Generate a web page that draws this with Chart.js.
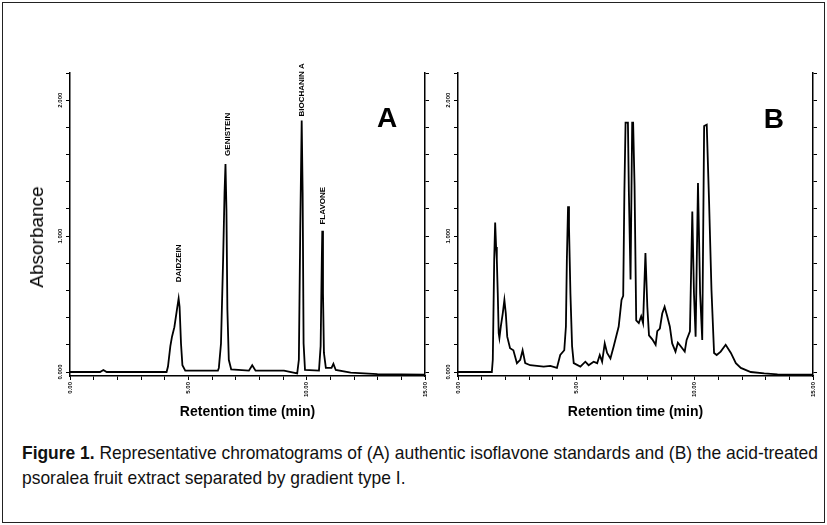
<!DOCTYPE html>
<html>
<head>
<meta charset="utf-8">
<title>Figure 1</title>
<script src="https://cdn.jsdelivr.net/npm/chart.js@4.4.1/dist/chart.umd.min.js"></script>
<style>
  html, body { margin: 0; padding: 0; background: #fff; }
  #page { position: relative; width: 827px; height: 525px; overflow: hidden; }
  #frame { position: absolute; left: 2px; top: 2px; width: 821px; height: 519px; border: 1px solid #222; }
  #chartA { position: absolute; left: 0; top: 0; }
  #chartB { position: absolute; left: 440px; top: 0; }
  #ylabel {
    position: absolute; left: 37px; top: 237px;
    transform: translate(-50%, -50%) rotate(-90deg);
    font: 19px "Liberation Sans", Arial, sans-serif; white-space: nowrap; color: #000;
  }
  #caption {
    position: absolute; left: 22px; top: 440px;
    font-family: "Liberation Sans", Arial, sans-serif;
    font-size: 19px; line-height: 25px; white-space: nowrap; color: #111;
    transform-origin: left top;
  }
</style>
</head>
<body>
<div id="page">
  <div id="frame"></div>
  <canvas id="chartA" width="440" height="421"></canvas>
  <canvas id="chartB" width="387" height="421"></canvas>
  <div id="ylabel">Absorbance</div>
  <div id="caption"><span id="capLine1"><b>Figure 1.</b> Representative chromatograms of (A) authentic isoflavone standards and (B) the acid-treated</span><br>psoralea fruit extract separated by gradient type I.</div>
</div>
<script>
// --- (A) isoflavone standards: retention time (min) / absorbance ---
const timeA = [0, 1.27, 1.41, 1.55, 4.08, 4.14, 4.24, 4.31, 4.41, 4.52, 4.59, 4.63, 4.69, 4.75, 4.87,
  6.25, 6.29, 6.38, 6.47, 6.53, 6.57, 6.61, 6.65, 6.71, 6.81, 7.56, 7.70, 7.84, 9.04,
  9.60, 9.67, 9.73, 9.79, 9.83, 9.87, 9.93, 10.52, 10.59, 10.64, 10.66, 10.69, 10.73, 10.81,
  11.05, 11.13, 11.23, 11.86, 12.99, 15.0];
const absA = [0.00, 0.00, 0.015, 0.00, 0.00, 0.04, 0.19, 0.26, 0.33, 0.46, 0.54, 0.48, 0.21, 0.05, 0.01,
  0.01, 0.03, 0.21, 0.83, 1.32, 1.53, 1.20, 0.46, 0.09, 0.02, 0.01, 0.05, 0.01, 0.01,
  -0.01, 0.09, 1.07, 1.85, 1.32, 0.21, 0.015, 0.01, 0.19, 0.83, 1.04, 0.58, 0.14, 0.03,
  0.03, 0.06, 0.015, -0.005, -0.015, -0.02];

// --- (B) acid-treated psoralea fruit extract ---
const timeB = [0, 1.43, 1.47, 1.53, 1.57, 1.61, 1.64, 1.68, 1.72, 1.75, 1.81, 1.89, 1.96, 2.02, 2.08,
  2.20, 2.34, 2.49, 2.63, 2.73, 2.84, 3.05, 3.62, 3.90, 4.18, 4.32, 4.49, 4.56, 4.60, 4.65, 4.69,
  4.75, 4.82, 4.89, 5.17, 5.38, 5.52, 5.73, 5.88, 5.99, 6.09, 6.20, 6.30, 6.44, 6.58, 6.79, 6.91,
  6.98, 7.03, 7.08, 7.18, 7.22, 7.29, 7.36, 7.40, 7.46, 7.53, 7.64, 7.74, 7.82, 7.92, 8.00, 8.07,
  8.21, 8.35, 8.42, 8.53, 8.63, 8.73, 8.84, 8.95, 9.05, 9.19, 9.29, 9.41, 9.58, 9.66, 9.80, 9.90,
  9.97, 10.04, 10.14, 10.23, 10.32, 10.40, 10.51, 10.61, 10.71, 10.82, 10.93, 11.10, 11.31, 11.53,
  11.74, 11.95, 12.37, 12.94, 13.50, 14.99];
const absB = [0.00, 0.00, 0.09, 0.83, 1.10, 0.92, 0.83, 0.58, 0.285, 0.25, 0.335, 0.43, 0.53, 0.43, 0.26,
  0.175, 0.16, 0.065, 0.09, 0.16, 0.065, 0.05, 0.04, 0.045, 0.03, 0.125, 0.16, 0.335, 0.83, 1.22, 1.07,
  0.58, 0.19, 0.065, 0.04, 0.076, 0.05, 0.076, 0.065, 0.125, 0.076, 0.21, 0.14, 0.10, 0.19, 0.335, 0.53,
  0.56, 1.32, 1.835, 1.835, 1.32, 0.68, 1.835, 1.835, 1.37, 0.38, 0.36, 0.41, 0.36, 0.876, 0.48, 0.27,
  0.24, 0.20, 0.30, 0.32, 0.43, 0.48, 0.41, 0.335, 0.21, 0.15, 0.216, 0.19, 0.15, 0.236, 0.30, 1.18,
  0.58, 0.26, 1.39, 0.58, 0.236, 1.81, 1.82, 1.245, 0.605, 0.14, 0.125, 0.15, 0.20, 0.14,
  0.065, 0.03, 0.00, -0.01, -0.017, -0.02];

// peak names in (A), with the time and absorbance where each label starts
const peakNamesA = ['DAIDZEIN', 'GENISTEIN', 'BIOCHANIN A', 'FLAVONE'];
const peakTimesA = [4.58, 6.65, 9.79, 10.68];
const peakLabelAbsA = [0.66, 1.59, 1.88, 1.085];

// axis ranges and tick steps
const timeMin = 0, timeMax = 15, timeStep = 1, timeLabelEvery = 5;
const absMin = -0.0294, absMax = 2.2, absStep = 0.2;

Chart.defaults.font.family = '"Liberation Sans", Arial, sans-serif';
Chart.defaults.color = '#000';

// rotated y tick labels, peak names and panel letter
const annotPlugin = {
    id: 'annot',
    afterDraw(chart, args, opts) {
        const ctx = chart.ctx;
        const xs = chart.scales.x, ys = chart.scales.y;
        ctx.save();
        ctx.fillStyle = '#000';

        // y tick labels (0.000, 1.000, 2.000) drawn sideways
        ctx.font = 'bold 6px "Liberation Sans", Arial, sans-serif';
        ctx.textAlign = 'center';
        ctx.textBaseline = 'middle';
        ys.ticks.forEach(t => {
            if (!t.label) return;
            ctx.save();
            ctx.translate(ys.right - 10, ys.getPixelForValue(t.value));
            ctx.rotate(-Math.PI / 2);
            ctx.fillText(t.label, 0, 0);
            ctx.restore();
        });

        // peak names
        ctx.font = 'bold 8px "Liberation Sans", Arial, sans-serif';
        ctx.textAlign = 'left';
        (opts.names || []).forEach((name, i) => {
            ctx.save();
            ctx.translate(xs.getPixelForValue(opts.times[i]), ys.getPixelForValue(opts.levels[i]));
            ctx.rotate(-Math.PI / 2);
            ctx.fillText(name, 0, 0);
            ctx.restore();
        });

        // panel letter
        ctx.font = 'bold 28px "Liberation Sans", Arial, sans-serif';
        ctx.textAlign = 'center';
        ctx.fillText(opts.letter, xs.getPixelForValue(opts.letterAt[0]), ys.getPixelForValue(opts.letterAt[1]));
        ctx.restore();
    }
};

function makeChart(canvasId, times, values, yWidth, y2Width, annot) {
    const points = times.map((t, i) => ({ x: t, y: values[i] }));
    const axisGrid = { drawOnChartArea: false, drawTicks: true, tickLength: 4, color: '#000', lineWidth: 1 };
    const axisBorder = { color: '#000', width: 1.5 };
    const yTicks = {
        stepSize: absStep,
        includeBounds: false,
        display: false,
        callback: v => Math.abs(v - Math.round(v)) < 1e-6 ? v.toFixed(3) : ''
    };

    return new Chart(document.getElementById(canvasId), {
        type: 'line',
        data: {
            datasets: [{
                data: points,
                borderColor: '#000',
                borderWidth: 1.8,
                pointRadius: 0,
                tension: 0,
                fill: false
            }]
        },
        options: {
            responsive: false,
            animation: false,
            devicePixelRatio: 1,
            layout: { padding: { top: 73, left: 0, right: 0, bottom: 0 } },
            plugins: { legend: { display: false }, tooltip: { enabled: false }, annot: annot },
            scales: {
                x: {
                    type: 'linear',
                    min: timeMin,
                    max: timeMax,
                    ticks: {
                        stepSize: timeStep,
                        autoSkip: false,
                        minRotation: 90,
                        maxRotation: 90,
                        padding: 2,
                        font: { size: 6, weight: 'bold' },
                        callback: v => v % timeLabelEvery === 0 ? v.toFixed(2) : ''
                    },
                    grid: axisGrid,
                    border: axisBorder,
                    title: {
                        display: true,
                        text: 'Retention time (min)',
                        font: { size: 14, weight: 'bold' },
                        padding: 0
                    },
                    afterFit: s => { s.height = 45; }
                },
                y: {
                    min: absMin,
                    max: absMax,
                    ticks: yTicks,
                    grid: axisGrid,
                    border: axisBorder,
                    afterFit: s => { s.width = yWidth; }
                },
                y2: {
                    position: 'right',
                    min: absMin,
                    max: absMax,
                    ticks: Object.assign({}, yTicks),
                    grid: axisGrid,
                    border: axisBorder,
                    afterFit: s => { s.width = y2Width; }
                }
            }
        },
        plugins: [annotPlugin]
    });
}

document.addEventListener('DOMContentLoaded', () => {
    makeChart('chartA', timeA, absA, 70, 15, {
        names: peakNamesA, times: peakTimesA, levels: peakLabelAbsA,
        letter: 'A', letterAt: [13.4, 1.86]
    });
    makeChart('chartB', timeB, absB, 18, 14, {
        names: [], times: [], levels: [],
        letter: 'B', letterAt: [13.35, 1.85]
    });

    // squeeze the caption horizontally so its first line spans the same width as in the figure
    const caption = document.getElementById('caption');
    const w = document.getElementById('capLine1').getBoundingClientRect().width;
    caption.style.transform = 'scaleX(' + (796 / w).toFixed(4) + ')';
});
</script>
</body>
</html>
